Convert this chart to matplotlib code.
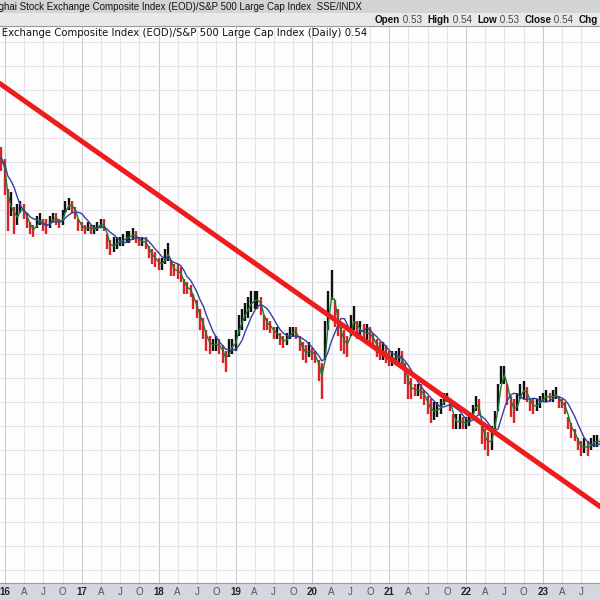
import matplotlib
matplotlib.use('Agg')
import matplotlib.pyplot as plt
import matplotlib.dates as mdates
from matplotlib.patches import Rectangle
import numpy as np
import pandas as pd

# ---- data (semi-monthly periods, ratio SSE / S&P 500) ----
dates = pd.date_range('2015-12-01', '2023-10-01', freq='SMS')

high = [1.50, 1.51,
        1.47, 1.37, 1.36, 1.31, 1.32, 1.33, 1.32, 1.29, 1.26, 1.25, 1.28, 1.29,
        1.27, 1.27, 1.28, 1.29, 1.29, 1.27, 1.30, 1.33, 1.34, 1.33, 1.31, 1.27,
        1.26, 1.25, 1.26, 1.25, 1.25, 1.26, 1.27, 1.27, 1.22, 1.20, 1.21, 1.21,
        1.21, 1.22, 1.23, 1.23, 1.24, 1.23, 1.21, 1.21, 1.21, 1.18, 1.17, 1.16,
        1.14, 1.14, 1.17, 1.19, 1.13, 1.12, 1.12, 1.11, 1.07, 1.06, 1.05, 1.02,
        1.00, 0.97, 0.94, 0.90, 0.88, 0.87, 0.88, 0.87, 0.85, 0.83, 0.87, 0.87,
        0.90, 0.95, 0.97, 0.99, 1.01, 1.03, 1.03, 1.03, 1.01, 0.95, 0.94, 0.93,
        0.91, 0.91, 0.89, 0.88, 0.89, 0.91, 0.91, 0.91, 0.88, 0.86, 0.85, 0.86,
        0.84, 0.83, 0.80, 0.79, 0.93, 1.03, 1.10, 1.00, 0.97, 0.91, 0.90, 0.88,
        0.95, 0.98, 0.93, 0.93, 0.92, 0.92, 0.91, 0.89, 0.87, 0.86, 0.86, 0.85,
        0.83, 0.83, 0.83, 0.84, 0.83, 0.79, 0.75, 0.74, 0.72, 0.72, 0.72, 0.70,
        0.68, 0.67, 0.66, 0.66, 0.67, 0.69, 0.69, 0.67, 0.62, 0.62, 0.62, 0.61,
        0.61, 0.62, 0.65, 0.68, 0.67, 0.58, 0.57, 0.56, 0.58, 0.63, 0.72, 0.78,
        0.78, 0.72, 0.68, 0.67, 0.69, 0.72, 0.73, 0.71, 0.67, 0.67, 0.67, 0.68,
        0.69, 0.70, 0.69, 0.70, 0.71, 0.68, 0.67, 0.66, 0.61, 0.59, 0.57, 0.54,
        0.53, 0.54, 0.53, 0.54, 0.55, 0.55, 0.54]

low = [1.45, 1.43,
       1.35, 1.23, 1.28, 1.22, 1.25, 1.29, 1.27, 1.24, 1.22, 1.21, 1.24, 1.25,
       1.23, 1.22, 1.24, 1.26, 1.25, 1.24, 1.25, 1.29, 1.30, 1.29, 1.27, 1.23,
       1.23, 1.22, 1.23, 1.22, 1.22, 1.23, 1.24, 1.23, 1.17, 1.15, 1.16, 1.17,
       1.18, 1.18, 1.19, 1.19, 1.20, 1.19, 1.18, 1.18, 1.17, 1.14, 1.12, 1.11,
       1.10, 1.10, 1.12, 1.13, 1.08, 1.08, 1.07, 1.06, 1.02, 1.02, 1.01, 0.97,
       0.94, 0.90, 0.87, 0.83, 0.82, 0.83, 0.83, 0.82, 0.79, 0.76, 0.81, 0.82,
       0.83, 0.88, 0.90, 0.93, 0.94, 0.96, 0.97, 0.97, 0.95, 0.90, 0.90, 0.89,
       0.87, 0.87, 0.85, 0.84, 0.85, 0.87, 0.88, 0.87, 0.83, 0.80, 0.79, 0.81,
       0.80, 0.79, 0.73, 0.67, 0.80, 0.90, 1.00, 0.91, 0.88, 0.83, 0.82, 0.81,
       0.88, 0.90, 0.87, 0.87, 0.86, 0.86, 0.86, 0.84, 0.81, 0.80, 0.80, 0.79,
       0.78, 0.78, 0.79, 0.78, 0.77, 0.72, 0.67, 0.67, 0.68, 0.68, 0.67, 0.65,
       0.62, 0.59, 0.60, 0.61, 0.62, 0.65, 0.66, 0.63, 0.57, 0.57, 0.57, 0.57,
       0.57, 0.58, 0.61, 0.63, 0.62, 0.52, 0.50, 0.48, 0.50, 0.57, 0.63, 0.72,
       0.72, 0.65, 0.61, 0.59, 0.63, 0.67, 0.67, 0.66, 0.63, 0.62, 0.63, 0.64,
       0.66, 0.66, 0.66, 0.66, 0.67, 0.64, 0.64, 0.62, 0.57, 0.54, 0.53, 0.50,
       0.48, 0.49, 0.48, 0.50, 0.51, 0.51, 0.51]

trend_dates = ['2015-11-01', '2023-12-01']
trend_vals = [1.74, 0.28]

title_text = 'Shanghai Stock Exchange Composite Index (EOD)/S&P 500 Large Cap Index'
symbol_text = 'SSE/INDX'
legend_head = 'Shanghai Stock '
legend_tail = 'Exchange Composite Index (EOD)/S&P 500 Large Cap Index (Daily) 0.54'
quote_labels = ['Open', 'High', 'Low', 'Close', 'Chg']
quote_values = ['0.53', '0.54', '0.53', '0.54', '']

# ---- figure ----
W = H = 600
fig = plt.figure(figsize=(6, 6), dpi=100)
fig.patch.set_facecolor('white')


def fx(px):
    return px / W


def fy(py):
    return 1 - py / H


# header bands and bottom strip (behind the axes)
fig.patches.append(Rectangle((0, fy(13)), 1, 13 / H, transform=fig.transFigure,
                             facecolor='#d3d4d6', edgecolor='none', zorder=-5))
fig.patches.append(Rectangle((0, fy(26)), 1, 13 / H, transform=fig.transFigure,
                             facecolor='#e9e9ea', edgecolor='none', zorder=-5))
fig.patches.append(Rectangle((0, 0), 1, 17 / H, transform=fig.transFigure,
                             facecolor='#d4d7de', edgecolor='none', zorder=-5))

ax = fig.add_axes([0, fy(583), 1, (583 - 26) / H])
ax.set_facecolor('#fdfdfe')

x = mdates.date2num(dates)
hi = np.array(high)
lo = np.array(low)
mid = (hi + lo) / 2
s = pd.Series(mid)
ma_fast = s.rolling(2, min_periods=1).mean().values
ma_slow = s.rolling(6, min_periods=1).mean().values

up = np.r_[True, np.diff(mid) >= 0]
colors = np.where(up, '#111111', '#d8232a')

ax.vlines(x, lo, hi, colors=colors, linewidth=1.7, zorder=3)
ax.plot(x, ma_fast, color='#1b7a2e', linewidth=1.0, zorder=4)
ax.plot(x, ma_slow, color='#3340a0', linewidth=1.0, zorder=4)

td = mdates.date2num(pd.to_datetime(trend_dates))
ax.plot(td, trend_vals, color='#ee1c1c', linewidth=3.6, solid_capstyle='butt', zorder=5)

# grid
qs = pd.date_range('2015-10-01', '2023-10-01', freq='QS')
qx = mdates.date2num(qs)
for d, xv in zip(qs, qx):
    ax.axvline(xv, color='#c9c9cf' if d.month == 1 else '#e3e4ea', linewidth=0.8, zorder=1)
for yv in np.arange(0.10, 1.95, 0.08):
    ax.axhline(yv, color='#e3e4ea', linewidth=0.8, zorder=1)

labels = [f'{d.year % 100:02d}' if d.month == 1 else {4: 'A', 7: 'J', 10: 'O'}[d.month] for d in qs]
ax.set_xticks(qx)
ax.set_xticklabels(labels)
for t, d in zip(ax.get_xticklabels(), qs):
    t.set_fontsize(7)
    t.set_family('Liberation Sans')
    if d.month == 1:
        t.set_fontweight('bold')
        t.set_color('#222222')
    else:
        t.set_color('#555555')
ax.tick_params(axis='x', length=0, pad=3)
ax.set_yticks([])

ax.set_xlim(mdates.date2num(pd.Timestamp('2015-12-09')), mdates.date2num(pd.Timestamp('2023-09-28')))
ax.set_ylim(2 - 583 / 300, 2 - 26 / 300)

for side in ['left', 'right']:
    ax.spines[side].set_visible(False)
ax.spines['top'].set_color('#9a9a9a')
ax.spines['bottom'].set_color('#9a9a9a')
ax.spines['top'].set_linewidth(0.8)
ax.spines['bottom'].set_linewidth(0.8)

# header texts
fig.text(fx(362), fy(7), title_text + '  ' + symbol_text, ha='right', va='center',
         fontsize=7, family='Liberation Sans', color='#111111')

fig.canvas.draw()
r = fig.canvas.get_renderer()

# quote line, laid out left-to-right from x=377, ending near x=598
qfs = 7.1
pieces = []
for lab, val in zip(quote_labels, quote_values):
    pieces.append((lab, 'bold', '#111111'))
    if val:
        pieces.append((' ' + val + '  ', 'normal', '#444444'))
texts = []
widths = []
for txt, wt, col in pieces:
    t = fig.text(0, fy(20), txt, ha='left', va='center', fontsize=qfs,
                 fontweight=wt, family='Liberation Sans', color=col)
    widths.append(t.get_window_extent(renderer=r).width)
    texts.append(t)
total = sum(widths)
cur = 598 - total
for t, w in zip(texts, widths):
    t.set_x(fx(cur))
    cur += w

# legend line: fit so that "Exchange" starts at x=0 and text ends at x=367
probe = fig.text(0, 0, legend_tail, fontsize=10, family='DejaVu Sans')
wtail = probe.get_window_extent(renderer=r).width
probe.remove()
lfs = 10 * 367 / wtail
fig.text(fx(367), fy(33), legend_head + legend_tail, ha='right', va='center',
         fontsize=lfs, family='DejaVu Sans', color='#111111')

fig.savefig('out.png', dpi=100)
